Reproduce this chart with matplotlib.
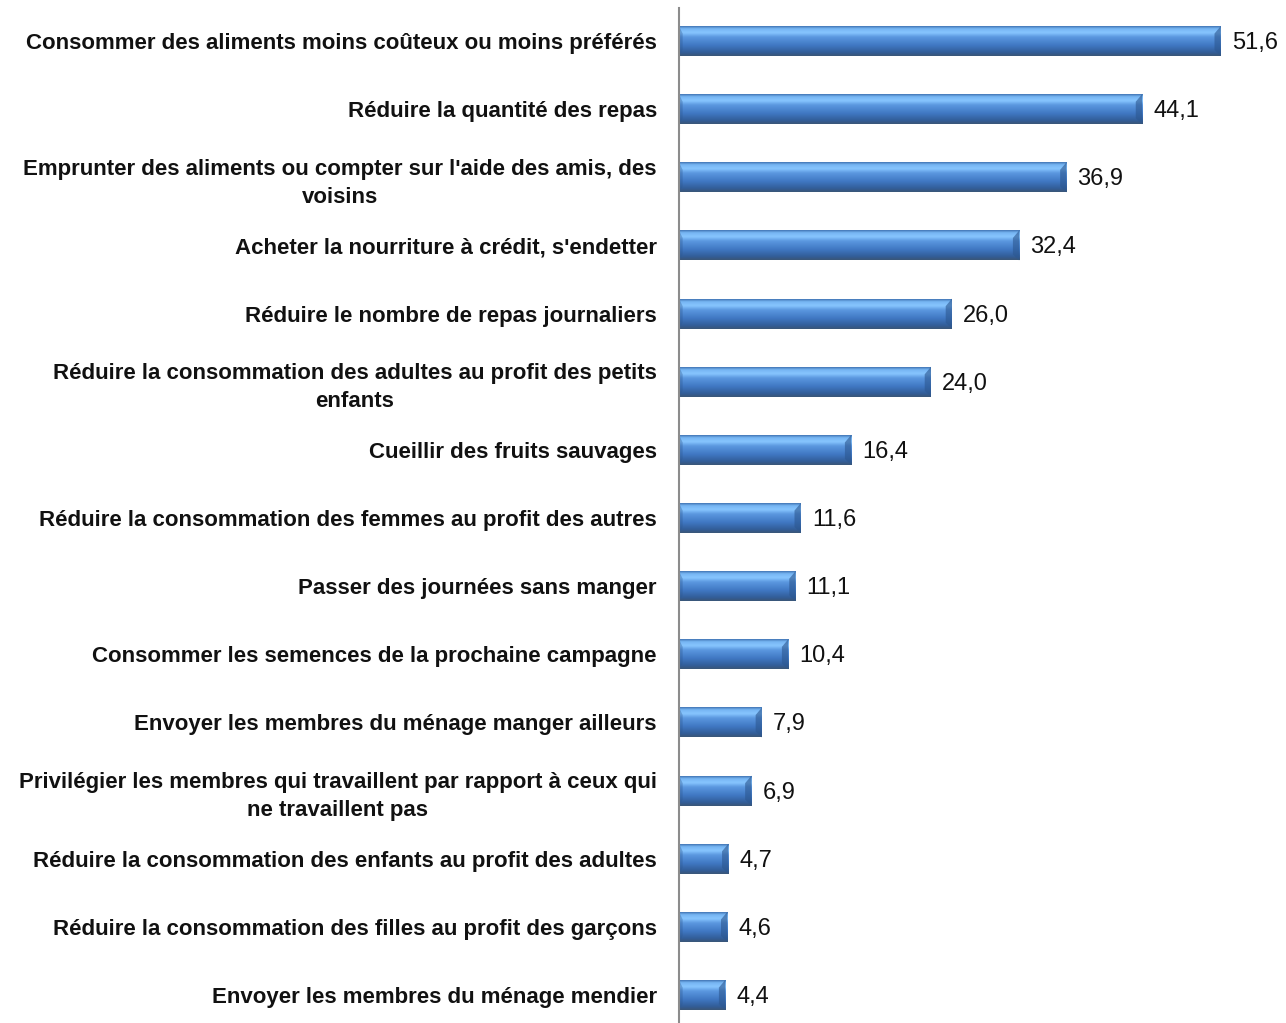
import numpy as np
import matplotlib
matplotlib.use("Agg")
import matplotlib.pyplot as plt
from matplotlib.colors import LinearSegmentedColormap
from matplotlib.patches import Polygon

categories = [
    "Consommer des aliments moins coûteux ou moins préférés",
    "Réduire la quantité des repas",
    "Emprunter des aliments ou compter sur l'aide des amis, des\nvoisins",
    "Acheter la nourriture à crédit, s'endetter",
    "Réduire le nombre de repas journaliers",
    "Réduire la consommation des adultes au profit des petits\nenfants",
    "Cueillir des fruits sauvages",
    "Réduire la consommation des femmes au profit des autres",
    "Passer des journées sans manger",
    "Consommer les semences de la prochaine campagne",
    "Envoyer les membres du ménage manger ailleurs",
    "Privilégier les membres qui travaillent par rapport à ceux qui\nne travaillent pas",
    "Réduire la consommation des enfants au profit des adultes",
    "Réduire la consommation des filles au profit des garçons",
    "Envoyer les membres du ménage mendier",
]
values = [51.6, 44.1, 36.9, 32.4, 26.0, 24.0, 16.4, 11.6, 11.1, 10.4, 7.9, 6.9, 4.7, 4.6, 4.4]
value_labels = ["51,6", "44,1", "36,9", "32,4", "26,0", "24,0", "16,4", "11,6",
                "11,1", "10,4", "7,9", "6,9", "4,7", "4,6", "4,4"]

plt.rcParams['font.family'] = ['Liberation Sans', 'DejaVu Sans']

W, H = 1286, 1023
fig = plt.figure(figsize=(W / 100, H / 100), dpi=100)
ax = fig.add_axes([679 / W, 0, 1 - 679 / W, 1 - 8 / H])

n = len(values)
ypos = np.arange(n)
bar_h = 0.44
ax.set_xlim(0, (W - 679) / 10.5)
ax.set_ylim(n - 1 + 0.41, -0.485)

grad = LinearSegmentedColormap.from_list("bar", [
    (0.00, "#3d6fae"),
    (0.08, "#75b4f2"),
    (0.22, "#88c6ff"),
    (0.36, "#5b98e0"),
    (0.65, "#3f77c2"),
    (0.88, "#325d98"),
    (1.00, "#3b5676"),
])
gimg = np.linspace(0, 1, 256).reshape(-1, 1)

bars = ax.barh(ypos, values, height=bar_h, color="none", edgecolor="none")
for b, v in zip(bars, values):
    x0, y0 = b.get_x(), b.get_y()
    w, h = b.get_width(), b.get_height()
    im = ax.imshow(gimg, cmap=grad, aspect="auto", extent=(x0, x0 + w, y0 + h, y0),
                   interpolation="bicubic", zorder=2)
    im.set_clip_path(b)
    bw = min(0.6, w * 0.15)
    ax.add_patch(Polygon([(x0 + w - bw, y0 + h * 0.25), (x0 + w, y0), (x0 + w, y0 + h),
                          (x0 + w - bw, y0 + h * 0.8)], closed=True,
                         facecolor="#2c5790", alpha=0.6, edgecolor="none", zorder=3))
    ax.add_patch(Polygon([(x0, y0), (x0 + 0.35, y0 + h * 0.25), (x0 + 0.35, y0 + h * 0.8),
                          (x0, y0 + h)], closed=True,
                         facecolor="#2c5790", alpha=0.35, edgecolor="none", zorder=3))

for y, v, lab in zip(ypos, values, value_labels):
    ax.annotate(lab, xy=(v, y), xytext=(11, -2), textcoords="offset pixels",
                ha="left", va="center", fontsize=17, color="#111111", zorder=4)

ax.set_yticks(ypos)
ax.set_yticklabels(categories, fontsize=16, fontweight="bold", color="#111111")
for t in ax.get_yticklabels():
    t.set_multialignment("center")
    t.set_linespacing(1.45)
ax.tick_params(axis="y", length=0, pad=16)
ax.set_xticks([])
for s in ["top", "right", "bottom"]:
    ax.spines[s].set_visible(False)
ax.spines["left"].set_color("#8c8c8c")
ax.spines["left"].set_linewidth(1.5)
ax.spines["left"].set_zorder(5)

fig.savefig("out.png", dpi=100, facecolor="white")
